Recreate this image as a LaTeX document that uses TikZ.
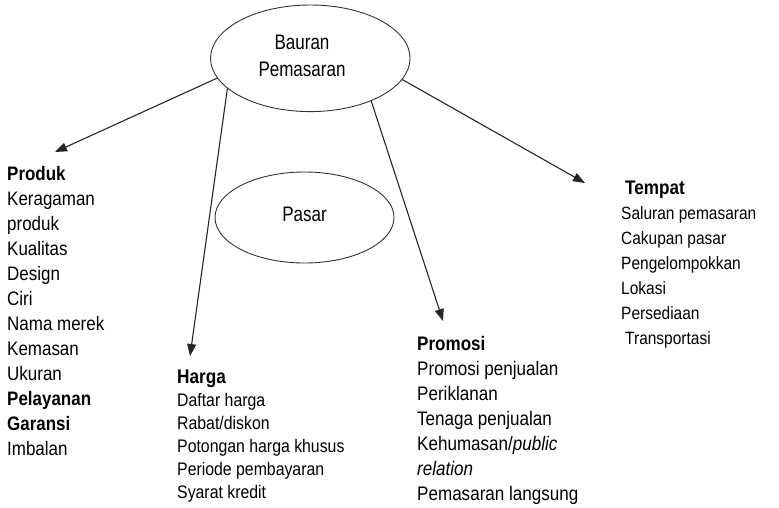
\documentclass[tikz,border=0pt]{standalone}
\usepackage{fontspec}
\setmainfont[FakeStretch=0.87]{Liberation Sans}
\newfontfamily\ovalfont[FakeStretch=0.81]{Liberation Sans}
\usetikzlibrary{shapes.geometric,arrows.meta}
\begin{document}
\begin{tikzpicture}[x=1pt,y=-1pt,
  oval/.style={draw=black!80, line width=0.9pt, ellipse, inner sep=0pt},
  link/.style={draw=black!85, line width=1.1pt, -{Triangle[length=12pt,width=9pt]}},
  list/.style={anchor=base west, align=left, inner sep=0pt}]
\useasboundingbox (0,0) rectangle (779,507);

% the two ovals
\node[oval, minimum width=199.5pt, minimum height=106.6pt] (bauran) at (310.3,58.3) {};
\node[inner sep=0pt, align=center, anchor=base, font=\ovalfont\fontsize{21}{27}\selectfont]
  (bauranlabel) at (302,76) {Bauran\\Pemasaran};
\node[oval, minimum width=179pt, minimum height=91pt, font=\ovalfont\fontsize{21}{24}\selectfont,
  text height=15pt, text depth=8pt] (pasar) at (304.5,217.5) {Pasar};

% arrow ends
\coordinate (produkTip) at (55,152);
\coordinate (hargaTip) at (190,356);
\coordinate (promosiTip) at (443,321);
\coordinate (tempatTip) at (585,183);

\draw[link] (bauran.192) -- (produkTip);
\draw[link] (bauran.200.4) -- (hargaTip);
\draw[link] (bauran.325.3) -- (promosiTip);
\draw[link] (bauran.347.8) -- (tempatTip);

% the four lists
\node[list, font=\fontsize{19.5}{25}\selectfont] (produk) at (7,455)
  {\textbf{Produk}\\Keragaman\\produk\\Kualitas\\Design\\Ciri\\Nama merek\\Kemasan\\Ukuran\\\textbf{Pelayanan}\\\textbf{Garansi}\\Imbalan};

\node[list, font=\fontsize{18.2}{23}\selectfont] (harga) at (177,498)
  {{\fontsize{19.8}{23}\selectfont\bfseries Harga}\\Daftar harga\\Rabat/diskon\\Potongan harga khusus\\Periode pembayaran\\Syarat kredit};

\node[list, font=\fontsize{19.6}{25}\selectfont] (promosi) at (417,500)
  {\textbf{Promosi}\\Promosi penjualan\\Periklanan\\Tenaga penjualan\\Kehumasan/\textit{public}\\\textit{relation}\\Pemasaran langsung};

\node[list, font=\fontsize{17.8}{25}\selectfont] (tempat) at (621,344)
  {\hspace*{4pt}{\fontsize{19.7}{25}\selectfont\bfseries Tempat}\\Saluran pemasaran\\Cakupan pasar\\Pengelompokkan\\Lokasi\\Persediaan\\\hspace*{4pt}Transportasi};
\end{tikzpicture}
\end{document}
